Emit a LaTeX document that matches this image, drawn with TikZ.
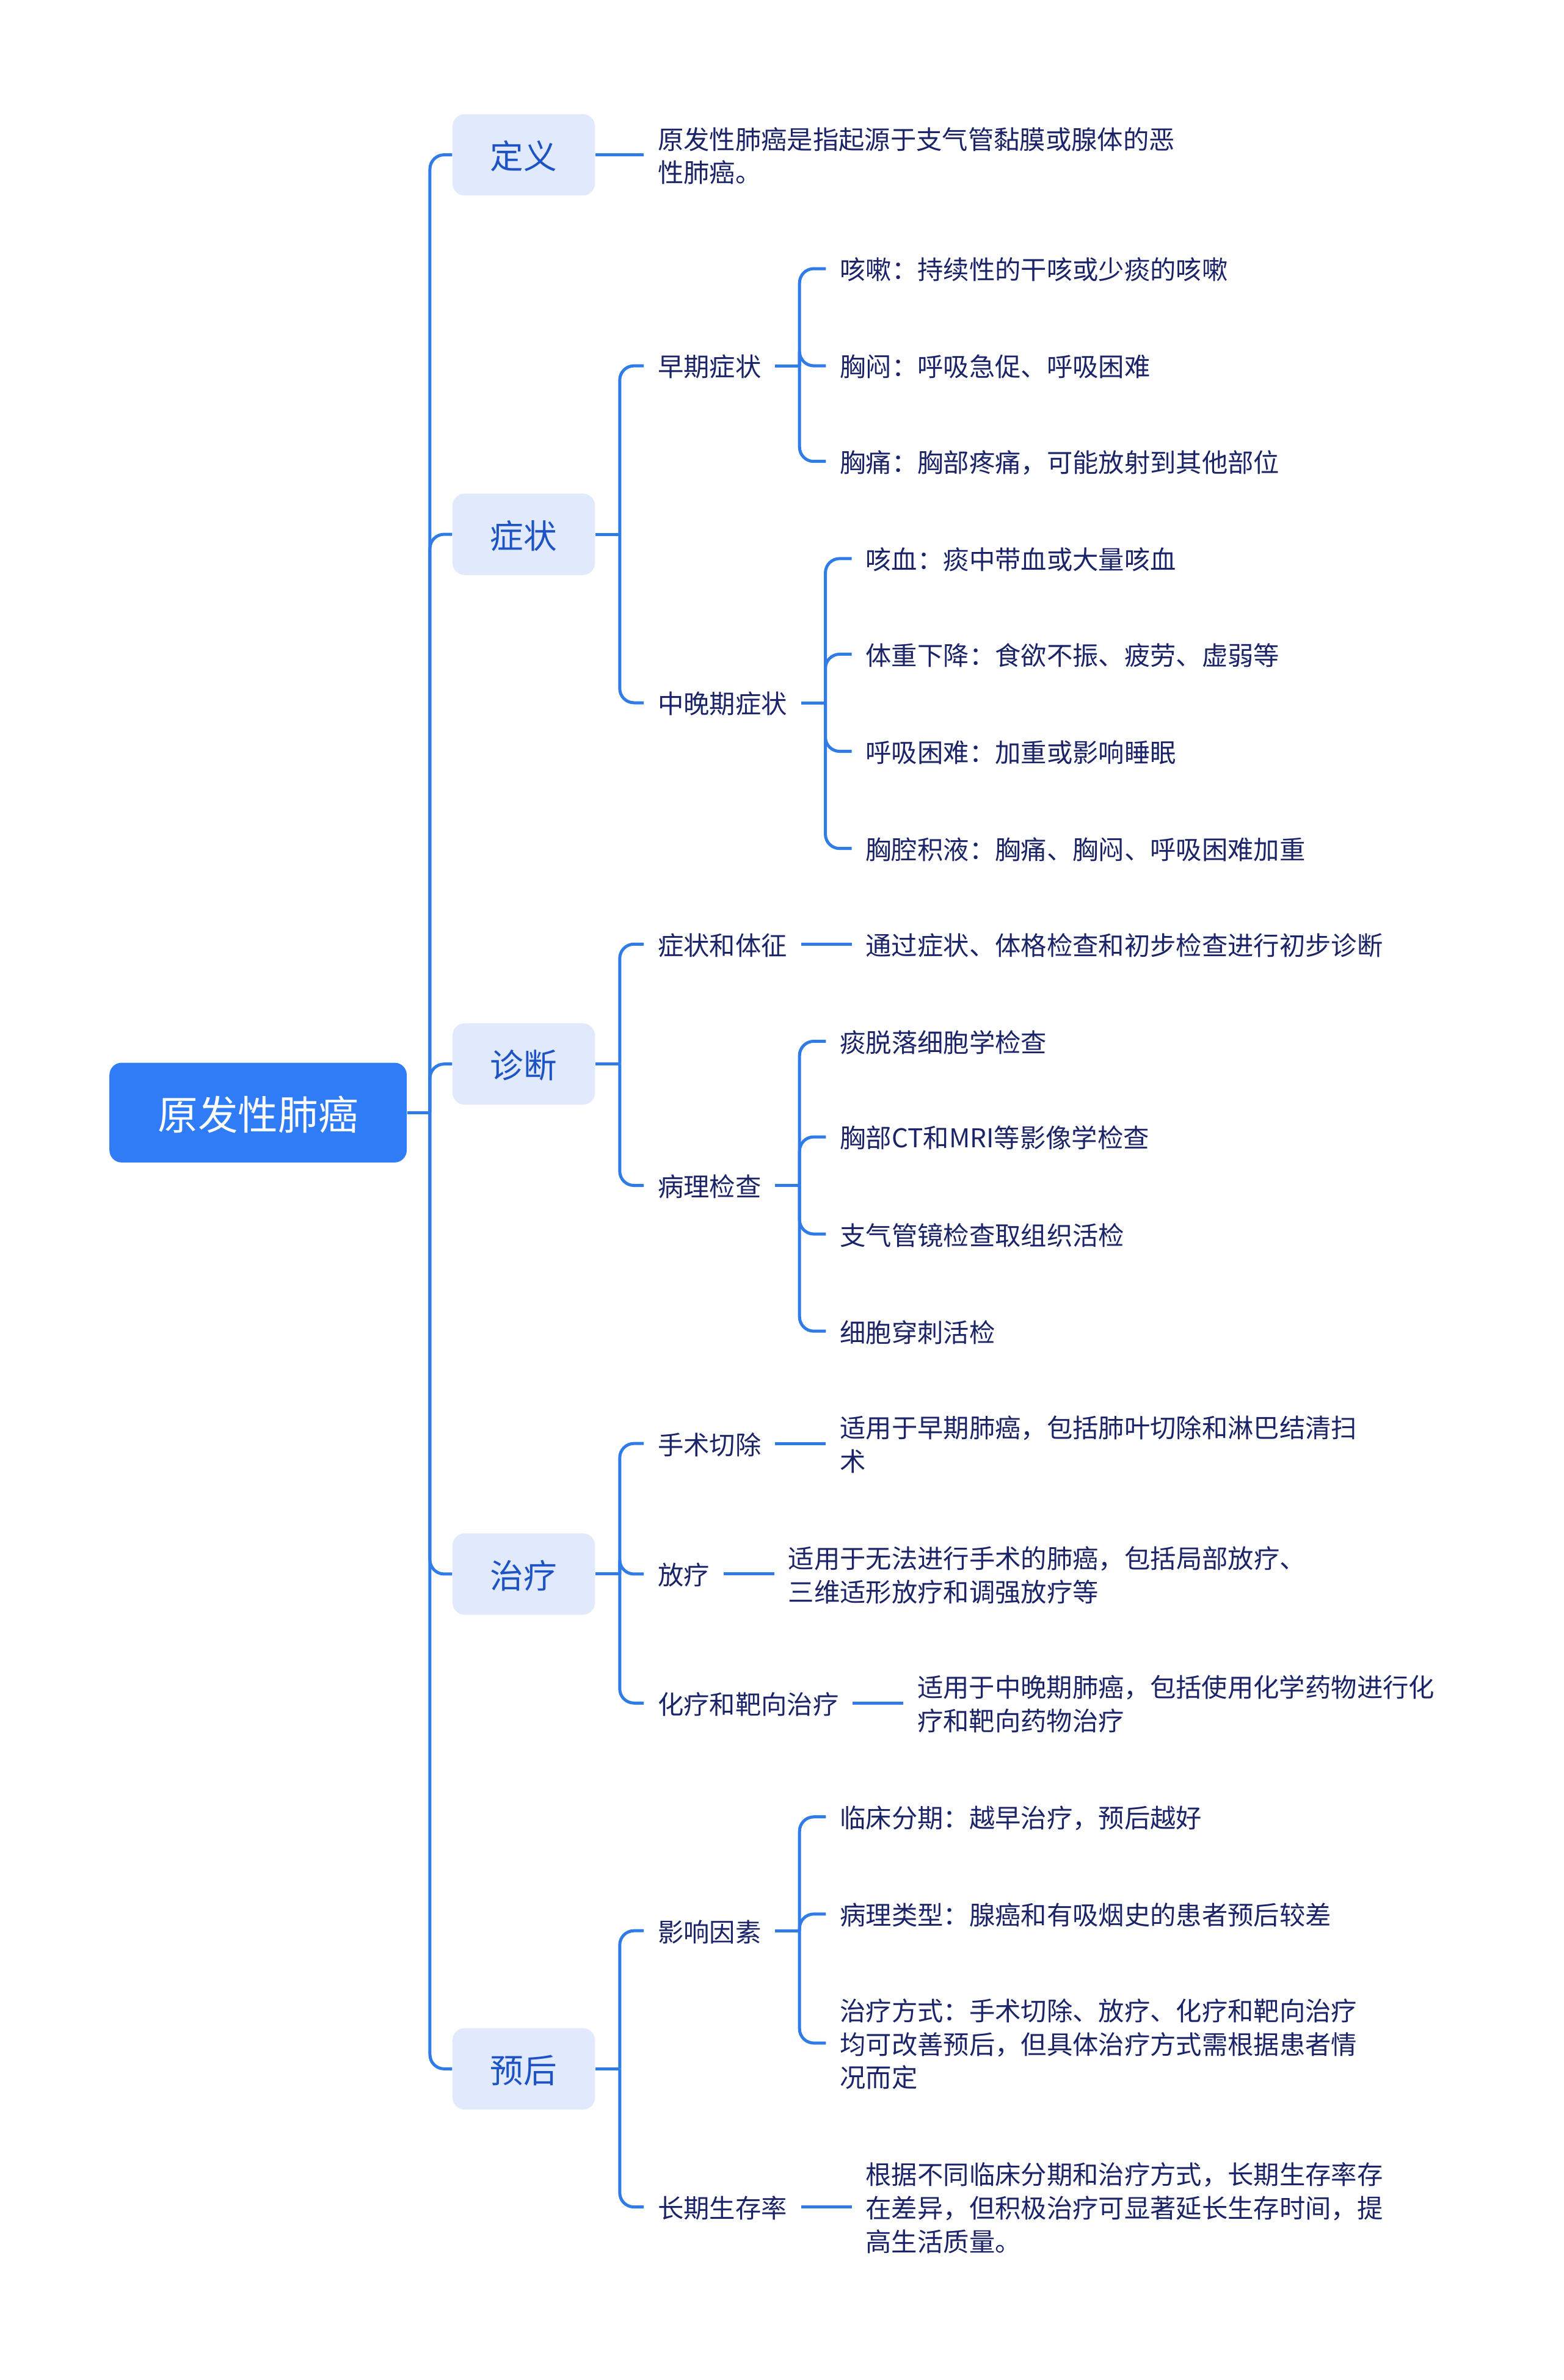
\documentclass[tikz,border=0pt]{standalone}
\usepackage{fontspec}
\setmainfont{Noto Sans CJK SC}
\usepackage{xcolor}
\usetikzlibrary{calc}

\definecolor{rootblue}{HTML}{2F7CF6}
\definecolor{topicfill}{HTML}{E1EAFC}
\definecolor{topictext}{HTML}{1D53C4}
\definecolor{linkblue}{HTML}{2F7BE8}
\definecolor{leaftext}{HTML}{1B2468}

\begin{document}
\begin{tikzpicture}[
  x=0.7456pt, y=-0.7456pt,
  % ---- Node styles ----
  base/.style={align=left, text depth=0pt},
  Sroot/.style={base, fill=rootblue, text=white, rounded corners=6pt,
    minimum width=146pt, minimum height=49pt, align=center,
    font=\fontsize{19.7pt}{24pt}\selectfont},
  Stopic/.style={base, fill=topicfill, text=topictext, rounded corners=6pt,
    minimum width=70pt, minimum height=40pt, align=center,
    font=\fontsize{16.4pt}{20pt}\selectfont},
  Sleaf/.style={base, anchor=west, text=leaftext, inner xsep=6.7pt,
    inner ysep=2pt, font=\fontsize{12.7pt}{16.4pt}\selectfont},
  % ---- Connector style ----
  link/.style={draw=linkblue, line width=1.5pt, rounded corners=7pt},
]
\useasboundingbox (0,0) rectangle (1030,1568);

% ---- Root and main topics ----
\node[Sroot]  (root)  at (170,733)  {原发性肺癌};
\node[Stopic] (def)   at (345,102)  {定义};
\node[Stopic] (sym)   at (345,352)  {症状};
\node[Stopic] (diag)  at (345,701)  {诊断};
\node[Stopic] (treat) at (345,1037) {治疗};
\node[Stopic] (prog)  at (345,1363) {预后};

\coordinate (rootJ) at ($(root.east)+(15,0)$);
\draw[link] (root.east) -- (rootJ);
\foreach \t in {def,sym,diag,treat,prog}
  \draw[link] (rootJ) |- (\t.west);

% ---- 定义 ----
\node[Sleaf] (defT) at (424,102)
  {原发性肺癌是指起源于支气管黏膜或腺体的恶\\性肺癌。};
\draw[link] (def.east) -- (defT.west);

% ---- 症状 ----
\node[Sleaf] (early) at (424,241) {早期症状};
\node[Sleaf] (late)  at (424,463) {中晚期症状};
\coordinate (symJ) at ($(sym.east)+(16,0)$);
\draw[link] (sym.east) -- (symJ);
\foreach \c in {early,late}
  \draw[link] (symJ) |- (\c.west);

\node[Sleaf] (e1) at (544,177) {咳嗽：持续性的干咳或少痰的咳嗽};
\node[Sleaf] (e2) at (544,241) {胸闷：呼吸急促、呼吸困难};
\node[Sleaf] (e3) at (544,304) {胸痛：胸部疼痛，可能放射到其他部位};
\coordinate (earlyJ) at ($(early.east)+(16,0)$);
\draw[link] (early.east) -- (earlyJ);
\foreach \c in {e1,e2,e3}
  \draw[link] (earlyJ) |- (\c.west);

\node[Sleaf] (l1) at (561,368) {咳血：痰中带血或大量咳血};
\node[Sleaf] (l2) at (561,431) {体重下降：食欲不振、疲劳、虚弱等};
\node[Sleaf] (l3) at (561,495) {呼吸困难：加重或影响睡眠};
\node[Sleaf] (l4) at (561,559) {胸腔积液：胸痛、胸闷、呼吸困难加重};
\coordinate (lateJ) at ($(late.east)+(16,0)$);
\draw[link] (late.east) -- (lateJ);
\foreach \c in {l1,l2,l3,l4}
  \draw[link] (lateJ) |- (\c.west);

% ---- 诊断 ----
\node[Sleaf] (sign) at (424,622) {症状和体征};
\node[Sleaf] (path) at (424,781) {病理检查};
\coordinate (diagJ) at ($(diag.east)+(16,0)$);
\draw[link] (diag.east) -- (diagJ);
\foreach \c in {sign,path}
  \draw[link] (diagJ) |- (\c.west);

\node[Sleaf] (signT) at (561,622) {通过症状、体格检查和初步检查进行初步诊断};
\draw[link] (sign.east) -- (signT.west);

\node[Sleaf] (p1) at (544,686) {痰脱落细胞学检查};
\node[Sleaf] (p2) at (544,749) {胸部CT和MRI等影像学检查};
\node[Sleaf] (p3) at (544,813) {支气管镜检查取组织活检};
\node[Sleaf] (p4) at (544,877) {细胞穿刺活检};
\coordinate (pathJ) at ($(path.east)+(16,0)$);
\draw[link] (path.east) -- (pathJ);
\foreach \c in {p1,p2,p3,p4}
  \draw[link] (pathJ) |- (\c.west);

% ---- 治疗 ----
\node[Sleaf] (surg)  at (424,951)  {手术切除};
\node[Sleaf] (radio) at (424,1037) {放疗};
\node[Sleaf] (chemo) at (424,1122) {化疗和靶向治疗};
\coordinate (treatJ) at ($(treat.east)+(16,0)$);
\draw[link] (treat.east) -- (treatJ);
\foreach \c in {surg,radio,chemo}
  \draw[link] (treatJ) |- (\c.west);

\node[Sleaf] (surgT) at (544,951)
  {适用于早期肺癌，包括肺叶切除和淋巴结清扫\\术};
\node[Sleaf] (radioT) at (510,1037)
  {适用于无法进行手术的肺癌，包括局部放疗、\\三维适形放疗和调强放疗等};
\node[Sleaf] (chemoT) at (595,1122)
  {适用于中晚期肺癌，包括使用化学药物进行化\\疗和靶向药物治疗};
\draw[link] (surg.east)  -- (surgT.west);
\draw[link] (radio.east) -- (radioT.west);
\draw[link] (chemo.east) -- (chemoT.west);

% ---- 预后 ----
\node[Sleaf] (fac)  at (424,1272) {影响因素};
\node[Sleaf] (surv) at (424,1454) {长期生存率};
\coordinate (progJ) at ($(prog.east)+(16,0)$);
\draw[link] (prog.east) -- (progJ);
\foreach \c in {fac,surv}
  \draw[link] (progJ) |- (\c.west);

\node[Sleaf] (f1) at (544,1197) {临床分期：越早治疗，预后越好};
\node[Sleaf] (f2) at (544,1261) {病理类型：腺癌和有吸烟史的患者预后较差};
\node[Sleaf] (f3) at (544,1346)
  {治疗方式：手术切除、放疗、化疗和靶向治疗\\均可改善预后，但具体治疗方式需根据患者情\\况而定};
\coordinate (facJ) at ($(fac.east)+(16,0)$);
\draw[link] (fac.east) -- (facJ);
\foreach \c in {f1,f2,f3}
  \draw[link] (facJ) |- (\c.west);

\node[Sleaf] (survT) at (561,1454)
  {根据不同临床分期和治疗方式，长期生存率存\\在差异，但积极治疗可显著延长生存时间，提\\高生活质量。};
\draw[link] (surv.east) -- (survT.west);
\end{tikzpicture}
\end{document}
